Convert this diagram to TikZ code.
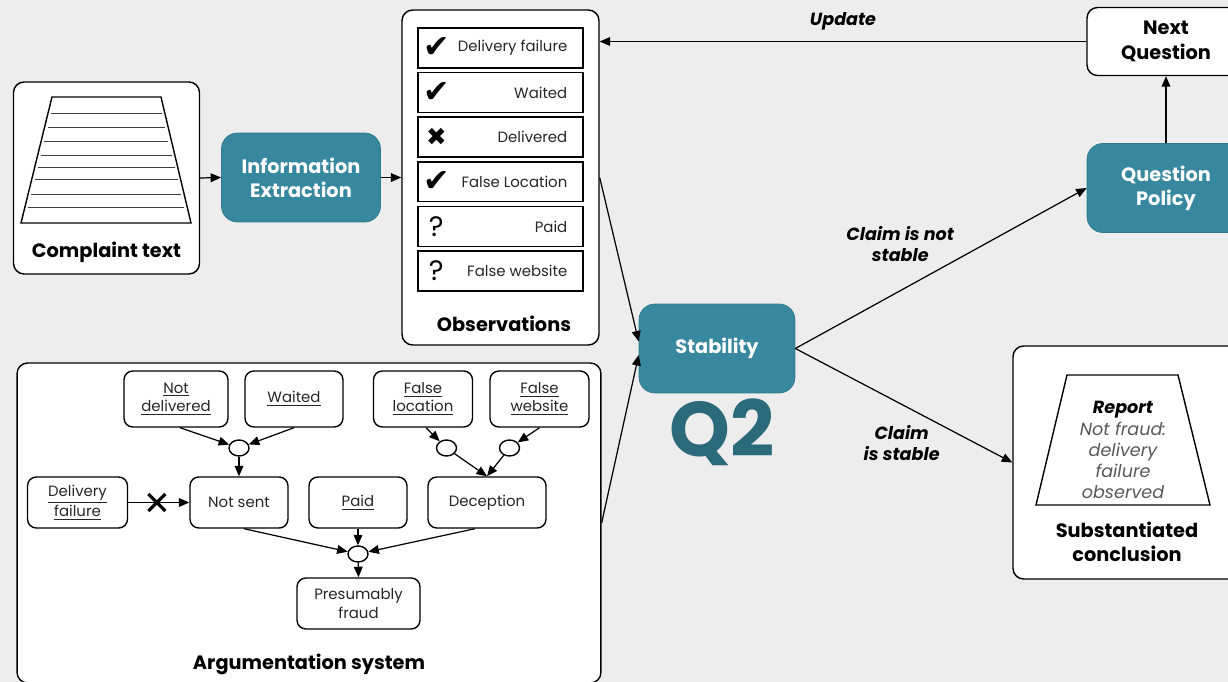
\documentclass[tikz,border=0pt]{standalone}
\usepackage{fontspec}
\setmainfont{Poppins}
\newfontfamily\symfont{DejaVu Sans}
\usetikzlibrary{positioning,arrows.meta,shapes.geometric}

\definecolor{canvas}{HTML}{EDEDED}
\definecolor{tealfill}{HTML}{37889E}
\definecolor{tealedge}{HTML}{2E7A8E}
\definecolor{qtwo}{HTML}{2A6A7B}

\newcommand{\chk}{{\symfont\fontsize{18}{18}\selectfont ✔}}
\newcommand{\crs}{{\symfont\fontsize{14}{14}\selectfont ✖}}
\newcommand{\unk}{{\fontsize{16}{16}\selectfont ?}}

\tikzset{
  panel/.style={draw=black, fill=white, rounded corners=6pt, line width=0.8pt, inner sep=0pt},
  tealbox/.style={draw=tealedge, fill=tealfill, rounded corners=9pt, text=white,
    font=\bfseries\fontsize{11}{13.5}\selectfont, align=center,
    minimum width=3.12cm, minimum height=1.78cm, inner sep=0pt},
  obsrow/.style={draw=black, fill=white, line width=0.8pt, minimum width=3.3cm,
    minimum height=0.8cm, inner sep=0pt},
  rowtext/.style={font=\fontsize{8.5}{10.5}\selectfont, text=black!85, anchor=east, inner sep=0pt},
  argnode/.style={draw=black, fill=white, rounded corners=5pt, line width=0.8pt,
    align=center, font=\fontsize{8.5}{10.5}\selectfont, text=black!85, inner sep=0pt},
  junction/.style={draw=black, fill=white, ellipse, minimum width=0.4cm,
    minimum height=0.32cm, inner sep=0pt, line width=0.8pt},
  arr/.style={-{Triangle[length=6pt,width=5pt]}, line width=0.7pt},
  title/.style={font=\bfseries\fontsize{11}{14}\selectfont, align=center},
  branch/.style={font=\bfseries\itshape\fontsize{10}{12}\selectfont, align=center},
}

\begin{document}
\begin{tikzpicture}[x=0.02cm, y=-0.02cm]
  \fill[canvas] (0,0) rectangle (1228,682);
  \clip (0,0) rectangle (1228,682);

  % complaint text
  \node[panel, minimum width=3.72cm, minimum height=3.84cm] (complaint) at (106.5,178) {};
  \draw[line width=0.8pt] (52,97) -- (161,97) -- (191,223) -- (21,223) -- cycle;
  \foreach \y in {113,127,141,155,167,179,194,207}
    \draw[line width=0.5pt, black!75] ({52-31*(\y-97)/126+3},\y) -- ({161+30*(\y-97)/126-3},\y);
  \node[title] (complaintlbl) at (106.5,252) {Complaint text};

  \node[tealbox, minimum width=3.18cm] (infoext) at (301,177.5) {Information\\Extraction};

  % observations
  \node[panel, minimum width=3.94cm, minimum height=6.7cm] (obs) at (500.5,177.5) {};
  \foreach \i/\mk/\txt in {0/\chk/Delivery failure, 1/\chk/Waited, 2/\crs/Delivered,
      3/\chk/False Location, 4/\unk/Paid, 5/\unk/False website} {
    \node[obsrow] (row\i) at (500.5,{48+44.6*\i}) {};
    \node[rowtext] (rowtxt\i) at ([xshift=-0.32cm]row\i.east) {\txt};
    \node (rowmk\i) at ([xshift=0.38cm]row\i.west) {\mk};
  }
  \node[title] (obslbl) at (504,324) {Observations};

  \draw[arr] (complaint.east) -- (infoext.west);
  \draw[arr] (infoext.east) -- (obs.west);

  % question loop
  \node[panel, title, minimum width=3.16cm, minimum height=1.36cm] (nextq) at (1166,41.5) {Next\\Question};
  \node[tealbox, minimum width=3.16cm] (qpolicy) at (1166,188) {Question\\Policy};
  \draw[arr] (qpolicy.north) -- (nextq.south);
  \draw[arr] (nextq.west) -- node[midway, above=3pt, branch] {Update} (nextq.west -| obs.east);

  % stability
  \node[tealbox] (stab) at (717,348.5) {Stability};
  \node[font=\bfseries\fontsize{44}{44}\selectfont, text=qtwo] (qlabel) at (722,432) {Q2};

  % conclusion
  \node[panel, minimum width=4.56cm, minimum height=4.66cm] (concl) at (1127,462.5) {};
  \draw[line width=0.8pt] (1067,375) -- (1178,375) -- (1210,505) -- (1036,505) -- cycle;
  \node[align=center, font=\itshape\fontsize{10}{12}\selectfont, text=black!65] (report) at (1123,450)
    {\textbf{\textcolor{black}{Report}}\\Not fraud:\\delivery\\failure\\observed};
  \node[title] (concllbl) at (1127,542) {Substantiated\\conclusion};

  % argumentation system
  \node[panel, minimum width=11.68cm, minimum height=6.4cm] (argsys) at (309,523) {};
  \node[title] (arglbl) at (309,664) {Argumentation system};

  \node[argnode, minimum width=2.08cm, minimum height=1.12cm] (notdel) at (176,399) {\underline{Not}\\\underline{delivered}};
  \node[argnode, minimum width=1.96cm, minimum height=1.12cm] (waited) at (294,399) {\underline{Waited}};
  \node[argnode, minimum width=1.98cm, minimum height=1.12cm] (falseloc) at (423,399) {\underline{False}\\\underline{location}};
  \node[argnode, minimum width=1.98cm, minimum height=1.12cm] (falseweb) at (539.5,399) {\underline{False}\\\underline{website}};
  \node[argnode, minimum width=2.0cm, minimum height=1.02cm] (delfail) at (77.5,502.5) {\underline{Delivery}\\\underline{failure}};
  \node[argnode, minimum width=1.96cm, minimum height=1.02cm] (notsent) at (239,502.5) {Not sent};
  \node[argnode, minimum width=1.96cm, minimum height=1.02cm] (paid) at (358,502.5) {\underline{Paid}};
  \node[argnode, minimum width=2.36cm, minimum height=1.02cm] (decep) at (487,502.5) {Deception};
  \node[argnode, minimum width=2.46cm, minimum height=1.02cm] (presum) at (358.5,603.5) {Presumably\\fraud};

  \node[junction] (j1) at (239,448) {};
  \node[junction] (j2) at (446.5,448) {};
  \node[junction] (j3) at (509.5,448) {};
  \node[junction] (j4) at (358,554) {};

  \draw[arr] ([xshift=0.08cm]notdel.south) -- (j1);
  \draw[arr] (waited.south) -- (j1);
  \draw[arr] (j1) -- (notsent.north);
  \draw[arr] ([xshift=0.06cm]falseloc.south) -- (j2);
  \draw[arr] (falseweb.south) -- (j3);
  \draw[arr] (j2) -- (decep.north);
  \draw[arr] (j3) -- (decep.north);
  \draw[arr] ([xshift=0.1cm]notsent.south) -- (j4);
  \draw[arr] (paid.south) -- (j4);
  \draw[arr] ([xshift=-0.24cm]decep.south) -- (j4);
  \draw[arr] (j4) -- (presum.north);
  \draw[arr] (delfail.east) -- coordinate[pos=0.47] (xmark) (notsent.west);
  \draw[line width=1.8pt] ([shift={(-0.17cm,-0.17cm)}]xmark) -- ([shift={(0.17cm,0.17cm)}]xmark);
  \draw[line width=1.8pt] ([shift={(-0.17cm,0.17cm)}]xmark) -- ([shift={(0.17cm,-0.17cm)}]xmark);

  % into stability and out
  \draw[arr] (obs.east) -- ([yshift=0.14cm]stab.west);
  \draw[arr] (argsys.east) -- ([yshift=-0.13cm]stab.west);
  \draw[arr] (stab.east) -- node[pos=0.36, above=0.45cm, branch] {Claim is not\\stable} (qpolicy.west);
  \draw[arr] (stab.east) -- node[pos=0.49, below=0.3cm, branch] {Claim\\is stable} (concl.west);
\end{tikzpicture}
\end{document}
